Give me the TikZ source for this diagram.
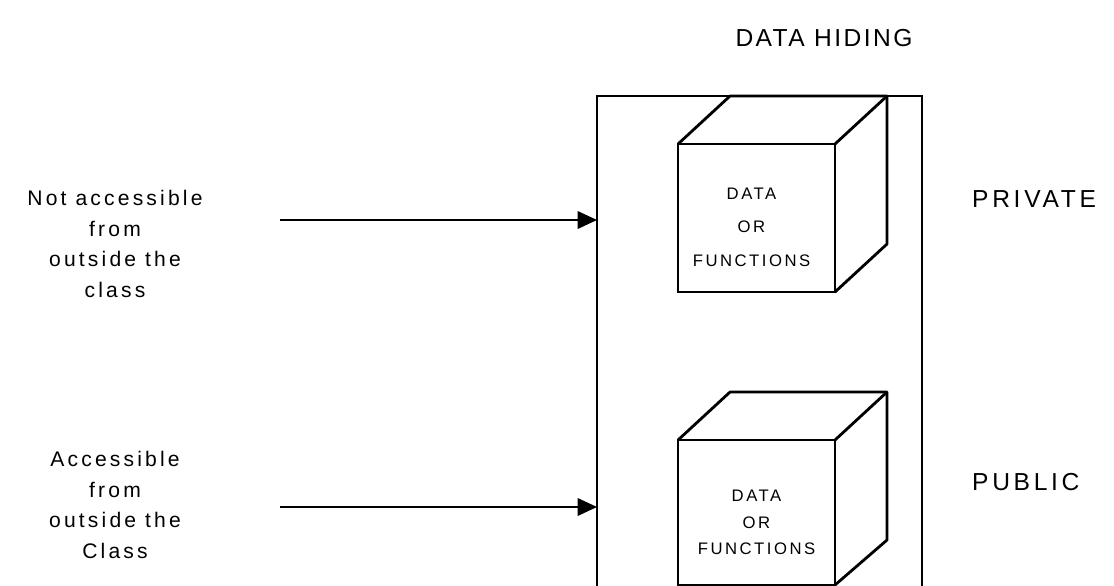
\documentclass[tikz,border=0pt]{standalone}
\usepackage{fontspec}
\setmainfont{Liberation Sans}
\newfontfamily\widefont[LetterSpace=15]{Liberation Sans}
\newfontfamily\titlefont[LetterSpace=10]{Liberation Sans}
\usetikzlibrary{arrows.meta}
\begin{document}
\begin{tikzpicture}[x=0.02cm,y=-0.02cm,
  sidetext/.style={align=center,font=\widefont\fontsize{12}{17.5}\selectfont},
  tagtext/.style={anchor=west,font=\widefont\fontsize{14}{16}\selectfont},
  cubeface/.style={draw,line width=1.6pt,minimum width=3.14cm,inner sep=0pt,outer sep=0pt},
  cubetext/.style={align=center,inner sep=0pt},
  cubeedge/.style={line width=1.6pt,line join=round},
  reach/.style={line width=0.9pt,-{Triangle[length=11pt,width=10pt]}}]
\useasboundingbox (0,0) rectangle (1114,585);
\clip (0,0) rectangle (1114,585);
\node[font=\titlefont\fontsize{14}{17}\selectfont] (title) at (824,38) {DATA HIDING};
\node[draw,line width=1.1pt,anchor=north west,minimum width=6.5cm,minimum height=12cm,inner sep=0pt,outer sep=0pt] (holder) at (597,96) {};
\node[cubeface,minimum height=2.96cm] (privbox) at (756.5,218) {};
\node[cubetext,font=\widefont\fontsize{9.5}{19}\selectfont] (privdata) at ([xshift=-0.1cm,yshift=-0.18cm]privbox.center) {DATA\\OR\\FUNCTIONS};
\draw[cubeedge] (privbox.north west) -- ++(52,-48) -- ++(157,0) -- ++(0,148) -- (privbox.south east);
\draw[cubeedge] (privbox.north east) -- ++(52,-48);
\node[cubeface,minimum height=2.9cm] (pubbox) at (756.5,512.5) {};
\node[cubetext,font=\widefont\fontsize{9.5}{15}\selectfont] (pubdata) at ([yshift=-0.2cm]pubbox.center) {DATA\\OR\\FUNCTIONS};
\draw[cubeedge] (pubbox.north west) -- ++(52,-48) -- ++(157,0) -- ++(0,148) -- (pubbox.south east);
\draw[cubeedge] (pubbox.north east) -- ++(52,-48);
\node[sidetext] (privwhy) at (115,244) {Not accessible\\from\\outside the\\class};
\node[sidetext] (pubwhy) at (115,505) {Accessible\\from\\outside the\\Class};
\coordinate (privfrom) at (280,220);
\coordinate (pubfrom) at (280,507);
\draw[reach] (privfrom) -- (privfrom -| holder.west);
\draw[reach] (pubfrom) -- (pubfrom -| holder.west);
\node[tagtext] (privtag) at (966,199) {PRIVATE};
\node[tagtext] (pubtag) at (966,482) {PUBLIC};
\end{tikzpicture}
\end{document}
